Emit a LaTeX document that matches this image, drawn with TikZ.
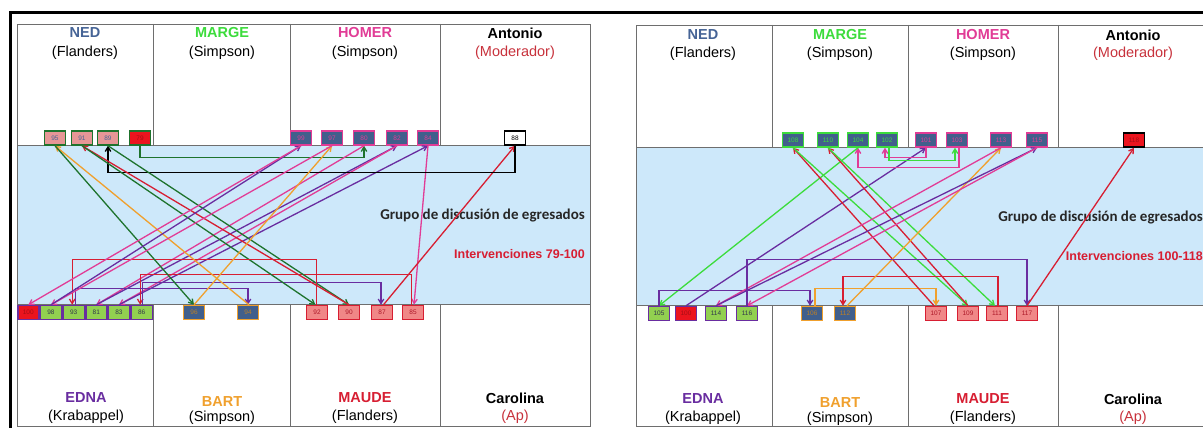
\documentclass[tikz,border=0pt]{standalone}
\usepackage{fontspec}
\setmainfont{Liberation Sans}
\newfontfamily\calib{Carlito}
\usetikzlibrary{arrows.meta}
\definecolor{nedc}{RGB}{70,100,150}
\definecolor{margec}{RGB}{60,220,60}
\definecolor{homerc}{RGB}{225,60,150}
\definecolor{modc}{RGB}{200,50,60}
\definecolor{ednac}{RGB}{105,45,160}
\definecolor{bartc}{RGB}{240,160,45}
\definecolor{maudec}{RGB}{215,30,50}
\definecolor{dkgreen}{RGB}{30,115,45}
\definecolor{slate}{RGB}{65,95,140}
\definecolor{salmonN}{RGB}{230,150,150}
\definecolor{maudefill}{RGB}{240,135,135}
\definecolor{ednafill}{RGB}{146,208,80}
\definecolor{hotred}{RGB}{235,20,30}
\definecolor{bandc}{RGB}{205,232,250}
\definecolor{gridc}{RGB}{110,110,110}
\definecolor{txtdark}{RGB}{50,55,75}
\begin{document}
\begin{tikzpicture}[x=1pt,y=-1pt,
  gridline/.style={draw=gridc,line width=0.9pt},
  head/.style={font=\bfseries\fontsize{14.5}{16}\selectfont,inner sep=0pt},
  sub/.style={font=\fontsize{14.5}{16}\selectfont,inner sep=0pt},
  box/.style={draw,line width=1.5pt,minimum width=21pt,minimum height=14pt,inner sep=0pt,font=\fontsize{6.5}{6.5}\selectfont},
  nedbox/.style={box,fill=salmonN,draw=dkgreen,text=nedc},
  homerbox/.style={box,fill=slate,draw=homerc,text=homerc},
  margebox/.style={box,fill=slate,draw=margec,text=margec},
  ednabox/.style={box,fill=ednafill,draw=ednac,text=txtdark},
  bartbox/.style={box,fill=slate,draw=bartc,text=bartc!80!black},
  maudebox/.style={box,fill=maudefill,draw=maudec,text=maudec!80!black},
  modbox/.style={box,fill=white,draw=black,text=black},
  hot/.style={fill=hotred,text=hotred!70!black},
  arr/.style={line width=1.3pt,-{Straight Barb[length=4.5pt,width=5.5pt]}},
  aNed/.style={arr,draw=dkgreen},
  aHom/.style={arr,draw=homerc},
  aMar/.style={arr,draw=margec},
  aEdn/.style={arr,draw=ednac},
  aBar/.style={arr,draw=bartc},
  aMau/.style={arr,draw=maudec},
  aMod/.style={arr,draw=black}]
\useasboundingbox (0,0) rectangle (1203,428);
\clip (0,0) rectangle (1203,428);
\fill[white] (0,0) rectangle (1203,428);
% outer thick frame
\draw[line width=3pt] (10,428) -- (10,13) -- (1210,13);
% ===== left panel grid =====
\fill[bandc] (17,145) rectangle (590,304);
\draw[gridline] (17,24) rectangle (590,426);
\draw[gridline] (17,145) -- (590,145) (17,304) -- (590,304);
\foreach \x in {153,290,440} {\draw[gridline] (\x,24) -- (\x,145) (\x,304) -- (\x,426);}
% ===== right panel grid =====
\fill[bandc] (636,147) rectangle (1215,305);
\draw[gridline] (636,25) rectangle (1215,426);
\draw[gridline] (636,147) -- (1215,147) (636,305) -- (1215,305);
\foreach \x in {772,908,1058} {\draw[gridline] (\x,25) -- (\x,147) (\x,305) -- (\x,426);}
% ===== headers left =====
\node[head,text=nedc] (lNed) at (85,33) {NED};
\node[sub] (lNedS) at (85,53) {(Flanders)};
\node[head,text=margec] (lMar) at (222,33) {MARGE};
\node[sub] (lMarS) at (222,53) {(Simpson)};
\node[head,text=homerc] (lHom) at (365,33) {HOMER};
\node[sub] (lHomS) at (365,53) {(Simpson)};
\node[head] (lAnt) at (515,33) {Antonio};
\node[sub,text=modc] (lAntS) at (515,53) {(Moderador)};
\node[head,text=ednac] (lEdn) at (86,398) {EDNA};
\node[sub] (lEdnS) at (86,417) {(Krabappel)};
\node[head,text=bartc] (lBar) at (222,402) {BART};
\node[sub] (lBarS) at (222,418) {(Simpson)};
\node[head,text=maudec] (lMau) at (365,398) {MAUDE};
\node[sub] (lMauS) at (365,417) {(Flanders)};
\node[head] (lCar) at (515,398) {Carolina};
\node[sub,text=modc] (lCarS) at (515,417) {(Ap)};
\node[anchor=east,inner sep=0pt,font=\calib\bfseries\fontsize{15}{17}\selectfont,text=black!85] (lGrupo) at (585,216) {Grupo de discusión de egresados};
\node[anchor=east,inner sep=0pt,font=\bfseries\fontsize{12.5}{14}\selectfont,text=maudec] (lInt) at (585,254) {Intervenciones 79-100};
% ===== headers right =====
\node[head,text=nedc] (rNed) at (703,35) {NED};
\node[sub] (rNedS) at (703,54) {(Flanders)};
\node[head,text=margec] (rMar) at (840,35) {MARGE};
\node[sub] (rMarS) at (840,54) {(Simpson)};
\node[head,text=homerc] (rHom) at (983,35) {HOMER};
\node[sub] (rHomS) at (983,54) {(Simpson)};
\node[head] (rAnt) at (1133,35) {Antonio};
\node[sub,text=modc] (rAntS) at (1133,54) {(Moderador)};
\node[head,text=ednac] (rEdn) at (703,399) {EDNA};
\node[sub] (rEdnS) at (703,418) {(Krabappel)};
\node[head,text=bartc] (rBar) at (840,403) {BART};
\node[sub] (rBarS) at (840,419) {(Simpson)};
\node[head,text=maudec] (rMau) at (983,399) {MAUDE};
\node[sub] (rMauS) at (983,418) {(Flanders)};
\node[head] (rCar) at (1133,399) {Carolina};
\node[sub,text=modc] (rCarS) at (1133,418) {(Ap)};
\node[anchor=east,inner sep=0pt,font=\calib\bfseries\fontsize{15}{17}\selectfont,text=black!85] (rGrupo) at (1203,218) {Grupo de discusión de egresados};
\node[anchor=east,inner sep=0pt,font=\bfseries\fontsize{12.5}{14}\selectfont,text=maudec] (rInt) at (1203,256) {Intervenciones 100-118};
% ===== left boxes =====
\node[nedbox] (n95) at (55,138) {95};
\node[nedbox] (n91) at (82,138) {91};
\node[nedbox] (n89) at (108,138) {89};
\node[nedbox,hot] (n79) at (140,138) {79};
\node[homerbox] (n99) at (301,138) {99};
\node[homerbox] (n97) at (332,138) {97};
\node[homerbox] (n80) at (364,138) {80};
\node[homerbox] (n82) at (397,138) {82};
\node[homerbox] (n84) at (428,138) {84};
\node[modbox] (n88) at (515,138) {88};
\node[ednabox,hot,minimum width=21.1pt] (n100) at (28.3,312.5) {100};
\node[ednabox,minimum width=21.1pt] (n98) at (51,312.5) {98};
\node[ednabox,minimum width=21.1pt] (n93) at (73.7,312.5) {93};
\node[ednabox,minimum width=21.1pt] (n81) at (96.3,312.5) {81};
\node[ednabox,minimum width=21.1pt] (n83) at (119,312.5) {83};
\node[ednabox,minimum width=21.1pt] (n86) at (141.7,312.5) {86};
\node[bartbox] (n96) at (194,312.5) {96};
\node[bartbox] (n94) at (248,312.5) {94};
\node[maudebox] (n92) at (317,312.5) {92};
\node[maudebox] (n90) at (349,312.5) {90};
\node[maudebox] (n87) at (382,312.5) {87};
\node[maudebox] (n85) at (413,312.5) {85};
% ===== right boxes =====
\node[margebox] (r108) at (793,140) {108};
\node[margebox] (r110) at (828,140) {110};
\node[margebox] (r104) at (858,140) {104};
\node[margebox] (r102) at (887,140) {102};
\node[homerbox] (r101) at (926,140) {101};
\node[homerbox] (r103) at (957,140) {103};
\node[homerbox] (r113) at (1001,140) {113};
\node[homerbox] (r115) at (1037,140) {115};
\node[modbox,hot] (r118) at (1134,140) {118};
\node[ednabox] (r105) at (659,313.5) {105};
\node[ednabox,hot] (r100) at (686,313.5) {100};
\node[ednabox] (r114) at (716,313.5) {114};
\node[ednabox] (r116) at (747,313.5) {116};
\node[bartbox] (r106) at (812,313.5) {106};
\node[bartbox] (r112) at (845,313.5) {112};
\node[maudebox] (r107) at (936,313.5) {107};
\node[maudebox] (r109) at (968,313.5) {109};
\node[maudebox] (r111) at (997,313.5) {111};
\node[maudebox] (r117) at (1027,313.5) {117};
% ===== left arrows 79-100 =====
\draw[aNed] (n79.south) -- ++(0,12) -| (n80.south);
\draw[aHom] (n80.south) -- (n81.north);
\draw[aEdn] (n81.north) -- (n82.south);
\draw[aHom] (n82.south) -- (n83.north);
\draw[aEdn] (n83.north) -- (n84.south);
\draw[aHom] (n84.south) -- ([xshift=1pt]n85.north);
\draw[aMau] ([xshift=-1.5pt]n85.north) -- ++(0,-30) -| ([xshift=-1.5pt]n86.north);
\draw[aEdn] ([xshift=1pt]n86.north) -- ++(0,-22) -| ([xshift=-1pt]n87.north);
\draw[aMau] ([xshift=1.5pt]n87.north) -- (n88.south);
\draw[aMod] (n88.south) -- ++(0,27) -| (n89.south);
\draw[aNed] (n89.south) -- (n90.north);
\draw[aMau] (n90.north) -- (n91.south);
\draw[aNed] (n91.south) -- ([xshift=-1.5pt]n92.north);
\draw[aMau] ([xshift=-0.5pt]n92.north) -- ++(0,-45) -| ([xshift=-1.5pt]n93.north);
\draw[aEdn] ([xshift=2pt]n93.north) -- ++(0,-16) -| (n94.north);
\draw[aBar] ([xshift=1pt]n94.north) -- (n95.south);
\draw[aNed] (n95.south) -- (n96.north);
\draw[aBar] (n96.north) -- (n97.south);
\draw[aHom] (n97.south) -- (n98.north);
\draw[aEdn] (n98.north) -- (n99.south);
\draw[aHom] (n99.south) -- (n100.north);
% ===== right arrows 100-118 =====
\draw[aEdn] (r100.north) -- (r101.south);
\draw[aHom] (r101.south) -- ++(0,10) -| ([xshift=-2pt]r102.south);
\draw[aMar] ([xshift=2pt]r102.south) -- ++(0,13) -| ([xshift=-2pt]r103.south);
\draw[aHom] ([xshift=2pt]r103.south) -- ++(0,20) -| (r104.south);
\draw[aMar] (r104.south) -- (r105.north);
\draw[aEdn] (r105.north) -- ++(0,-15) -| ([xshift=-2pt]r106.north);
\draw[aBar] ([xshift=3pt]r106.north) -- ++(0,-17) -| (r107.north);
\draw[aMau] ([xshift=-2pt]r107.north) -- (r108.south);
\draw[aMar] (r108.south) -- (r109.north);
\draw[aMau] (r109.north) -- (r110.south);
\draw[aMar] (r110.south) -- ([xshift=-2pt]r111.north);
\draw[aMau] ([xshift=1pt]r111.north) -- ++(0,-29) -| ([xshift=-2pt]r112.north);
\draw[aBar] ([xshift=2pt]r112.north) -- (r113.south);
\draw[aHom] (r113.south) -- (r114.north);
\draw[aEdn] (r114.north) -- (r115.south);
\draw[aHom] (r115.south) -- (r116.north);
\draw[aEdn] (r116.north) -- ++(0,-46) -| (r117.north);
\draw[aMau] (r117.north) -- (r118.south);
\end{tikzpicture}
\end{document}
